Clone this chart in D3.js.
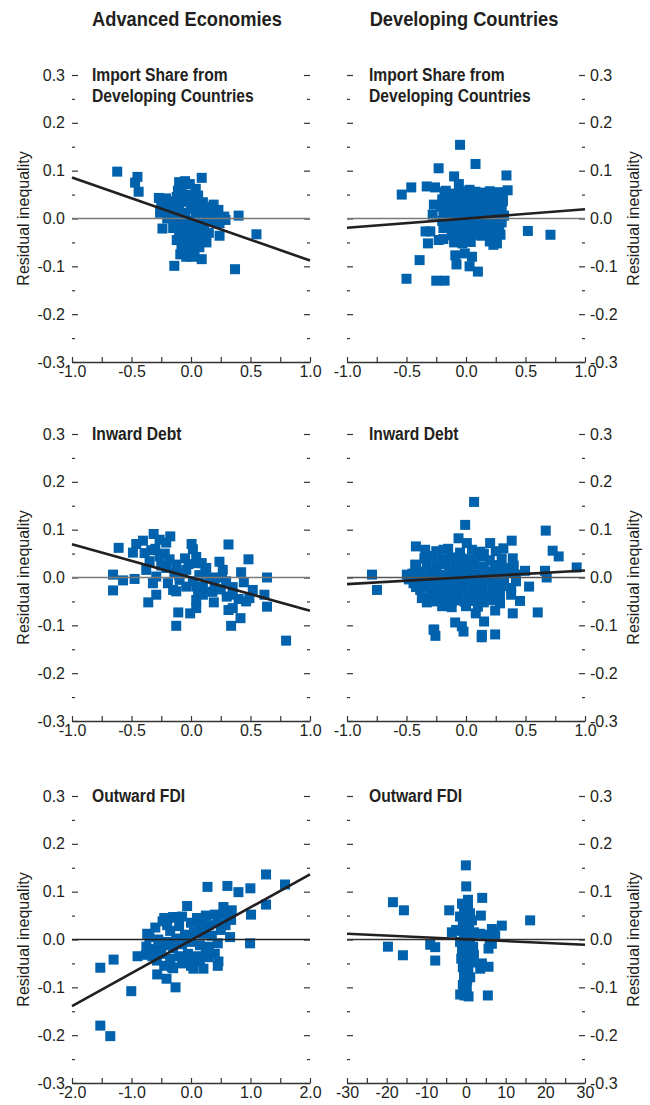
<!DOCTYPE html>
<html>
<head>
<meta charset="utf-8">
<title>Residual inequality scatter panels</title>
<script src="https://cdn.jsdelivr.net/npm/d3@7"></script>
<style>
    body { margin: 0; background: #fff; }
    svg text {
        font-family: "Liberation Sans", Arial, sans-serif;
        fill: #231f20;
    }
    .tick line, .domain { stroke: #333; }
</style>
</head>
<body>
<svg id="chart" width="650" height="1105"></svg>
<script>
// Configuration
const CONFIG = {
    colLeft: [72, 347],
    plotWidth: 238,
    rowTop: [75, 434, 796],
    plotHeight: 287,
    markSize: 10,
    markColor: '#0062ad',
    lineColor: '#231f20',
    narrow: 0.87
};

// Column headers and panel titles
const columnTitles = ['Advanced Economies', 'Developing Countries'];
const rowTitles = [['Import Share from', 'Developing Countries'], ['Inward Debt'], ['Outward FDI']];
const yAxisTitle = 'Residual inequality';

// Axis ticks
const yMajorTicks = [-0.3, -0.2, -0.1, 0.0, 0.1, 0.2, 0.3];
const yMinorTicks = [-0.25, -0.15, -0.05, 0.05, 0.15, 0.25];
const xTicksUnit = [-1.0, -0.5, 0.0, 0.5, 1.0];
const xMinorUnit = [-0.75, -0.25, 0.25, 0.75];
const xTicksFdiAE = [-2.0, -1.0, 0.0, 1.0, 2.0];
const xMinorFdiAE = [-1.5, -0.5, 0.5, 1.5];
const xTicksFdiDC = [-30, -20, -10, 0, 10, 20, 30];
const xMinorFdiDC = [-25, -15, -5, 5, 15, 25];

// Fitted lines: [intercept, slope]
const aeImportFit = [-0.001, -0.0868];
const dcImportFit = [0.0, 0.0192];
const aeDebtFit = [0.0, -0.0695];
const dcDebtFit = [0.0004, 0.0142];
const aeFdiFit = [-0.0017, 0.0689];
const dcFdiFit = [0.0005, -0.00038];

// Scatter points: [x, residual inequality]
const aeImport = [
    [-0.62, 0.098], [-0.45, 0.087], [-0.47, 0.075], [-0.44, 0.056], [0.09, 0.085], [0.40, 0.006],
    [0.55, -0.033], [0.37, -0.106], [-0.14, -0.099], [-0.24, -0.021], [0.09, -0.085], [0.24, -0.036],
    [-0.10, 0.076], [-0.05, 0.078], [-0.01, 0.072], [0.04, 0.062], [-0.11, 0.058], [-0.08, 0.066],
    [0.06, 0.048], [0.03, 0.040], [-0.12, 0.045], [-0.07, 0.040], [-0.02, 0.035],
    [-0.27, 0.043], [-0.21, 0.042], [-0.25, 0.028], [-0.18, 0.030], [-0.14, 0.036],
    [-0.26, 0.012], [-0.20, 0.016], [-0.15, 0.006], [-0.10, 0.022], [-0.05, 0.012], [0.00, 0.020],
    [0.05, 0.028], [0.10, 0.034], [0.15, 0.024], [0.19, 0.029], [0.23, 0.018], [0.28, 0.004],
    [0.29, -0.003], [0.12, 0.002], [-0.02, -0.004], [0.08, -0.010], [0.18, -0.006], [-0.12, -0.008],
    [0.24, -0.010], [0.14, 0.012], [-0.20, 0.000], [0.04, 0.008], [-0.08, 0.005],
    [-0.15, -0.020], [-0.10, -0.030], [-0.05, -0.024], [0.00, -0.032], [0.05, -0.020], [0.10, -0.036],
    [0.13, -0.050], [-0.12, -0.045], [-0.06, -0.050], [0.00, -0.055], [0.06, -0.048], [-0.08, -0.064],
    [-0.03, -0.068], [0.03, -0.070], [-0.09, -0.075], [-0.04, -0.080], [0.01, -0.080], [0.07, -0.060],
    [0.15, -0.030], [-0.04, 0.050], [0.00, 0.045], [0.08, 0.020], [-0.16, 0.020], [0.02, -0.012],
    [-0.07, -0.015], [0.11, -0.018], [-0.03, -0.045], [0.03, -0.040], [0.09, -0.048], [-0.12, 0.028],
    [0.20, 0.005]
];

const dcImport = [
    [-0.05, 0.154], [0.08, 0.114], [-0.23, 0.105], [0.34, 0.090], [-0.10, 0.088], [-0.46, 0.065],
    [-0.54, 0.050], [-0.33, 0.067], [-0.26, 0.065], [-0.17, 0.058], [0.35, 0.059], [-0.06, 0.072],
    [0.03, 0.060], [0.20, 0.057], [-0.27, 0.029], [-0.28, 0.008], [0.31, 0.036], [0.52, -0.026],
    [0.71, -0.034], [-0.34, -0.027], [-0.30, -0.027], [-0.32, -0.052], [-0.23, -0.045], [-0.19, -0.043],
    [-0.39, -0.087], [-0.50, -0.126], [-0.25, -0.130], [-0.18, -0.130], [-0.09, -0.077], [-0.08, -0.096],
    [0.05, -0.080], [0.03, -0.100], [0.10, -0.111], [-0.01, -0.073], [0.23, -0.055], [0.29, -0.034],
    [-0.19, -0.020],
    [-0.18, 0.055], [-0.12, 0.052], [-0.05, 0.057], [0.02, 0.053], [0.08, 0.056], [0.15, 0.054],
    [0.22, 0.052], [0.28, 0.055], [-0.20, 0.040], [-0.14, 0.042], [-0.08, 0.038], [-0.02, 0.041],
    [0.05, 0.039], [0.11, 0.043], [0.18, 0.040], [0.25, 0.038], [0.31, 0.042], [-0.21, 0.025],
    [-0.15, 0.027], [-0.09, 0.023], [-0.03, 0.026], [0.03, 0.024], [0.10, 0.027], [0.16, 0.022],
    [0.22, 0.025], [0.30, 0.020], [-0.19, 0.010], [-0.13, 0.012], [-0.06, 0.008], [0.00, 0.011],
    [0.06, 0.009], [0.13, 0.013], [0.20, 0.008], [0.27, 0.010], [0.32, 0.006], [-0.20, -0.005],
    [-0.14, -0.003], [-0.08, -0.007], [-0.01, -0.004], [0.05, -0.006], [0.11, -0.002], [0.18, -0.007],
    [0.24, -0.004], [0.30, -0.008], [-0.16, -0.020], [-0.10, -0.018], [-0.04, -0.022], [0.02, -0.019],
    [0.08, -0.021], [0.15, -0.018], [0.21, -0.022], [0.28, -0.020], [-0.12, -0.035], [-0.06, -0.033],
    [0.00, -0.037], [0.07, -0.034], [0.13, -0.036], [0.19, -0.032], [0.25, -0.036], [-0.10, -0.050],
    [-0.03, -0.052], [0.04, -0.049], [0.20, -0.048], [0.26, -0.052]
];

const aeDebt = [
    [-0.314, 0.091], [-0.174, 0.086], [-0.404, 0.077], [-0.460, 0.070], [-0.264, 0.079], [-0.208, 0.073],
    [-0.608, 0.062], [-0.488, 0.052], [-0.390, 0.051], [-0.334, 0.057], [0.005, 0.070], [0.016, 0.059],
    [0.315, 0.069], [0.044, 0.043], [-0.264, 0.044], [-0.180, 0.038], [-0.124, 0.027], [-0.348, 0.034],
    [0.058, 0.030], [0.239, 0.033], [0.483, 0.038], [-0.376, 0.016], [-0.208, 0.020], [-0.040, 0.016],
    [0.128, 0.020], [0.267, 0.016], [0.421, 0.011], [-0.655, 0.006], [-0.571, -0.006], [-0.474, -0.003],
    [-0.320, -0.012], [-0.292, 0.002], [-0.194, -0.012], [-0.096, -0.005], [0.016, -0.008], [0.156, -0.001],
    [0.295, -0.008], [0.444, -0.010], [0.639, 0.000], [-0.655, -0.027], [-0.292, -0.036], [-0.124, -0.029],
    [0.044, -0.019], [0.100, -0.036], [0.198, -0.019], [0.351, -0.036], [0.519, -0.026], [0.617, -0.036],
    [-0.359, -0.052], [0.044, -0.047], [0.192, -0.052], [0.463, -0.050], [0.491, -0.043], [0.639, -0.061],
    [-0.107, -0.073], [-0.007, -0.075], [0.044, -0.064], [0.315, -0.068], [0.351, -0.064], [0.416, -0.085],
    [-0.124, -0.101], [0.337, -0.101], [0.799, -0.132],
    [-0.07, 0.009], [-0.04, -0.019], [-0.15, -0.026], [0.10, -0.019], [0.07, 0.005], [-0.25, 0.025],
    [0.12, 0.010], [0.20, 0.000], [-0.02, 0.028], [0.09, 0.030], [0.18, -0.030], [0.25, -0.025],
    [-0.05, 0.040], [-0.30, 0.060], [-0.22, 0.050], [0.26, 0.000], [0.35, -0.020], [0.06, -0.028],
    [-0.10, 0.005], [-0.14, 0.010], [0.40, -0.045], [0.30, -0.040]
];

const dcDebt = [
    [0.068, 0.158], [-0.007, 0.110], [0.670, 0.098], [-0.063, 0.082], [0.384, 0.077], [0.203, 0.072],
    [-0.421, 0.065], [-0.343, 0.058], [0.728, 0.056], [0.779, 0.044], [0.314, 0.061], [0.119, 0.054],
    [0.007, 0.072], [-0.189, 0.058], [-0.427, 0.027], [0.930, 0.021], [-0.790, 0.006], [-0.748, -0.026],
    [-0.497, 0.006], [0.496, 0.014], [0.664, 0.014], [0.678, 0.000], [0.393, 0.040], [0.398, 0.023],
    [0.530, -0.019], [0.454, -0.049], [0.379, -0.036], [0.286, -0.036], [0.286, -0.054], [0.603, -0.073],
    [0.393, -0.075], [0.245, -0.069], [0.082, -0.075], [0.152, -0.092], [-0.091, -0.094], [-0.035, -0.102],
    [-0.267, -0.109], [-0.021, -0.113], [0.133, -0.120], [0.245, -0.119], [-0.371, -0.043], [-0.329, -0.052],
    [-0.385, -0.026], [-0.441, -0.012], [-0.133, -0.054], [-0.189, -0.043], [-0.257, -0.122], [0.132, -0.125],
    [-0.273, -0.109],
    [-0.25, 0.055], [-0.15, 0.060], [-0.05, 0.052], [0.05, 0.058], [0.15, 0.050], [0.25, 0.055],
    [-0.35, 0.040], [-0.28, 0.045], [-0.20, 0.038], [-0.12, 0.042], [-0.04, 0.040], [0.04, 0.038],
    [0.12, 0.044], [0.20, 0.036], [0.30, 0.040], [-0.42, 0.022], [-0.33, 0.027], [-0.25, 0.024],
    [-0.17, 0.028], [-0.09, 0.025], [-0.01, 0.022], [0.07, 0.027], [0.15, 0.023], [0.24, 0.026],
    [0.32, 0.020], [0.40, 0.025], [-0.45, 0.008], [-0.38, 0.012], [-0.30, 0.010], [-0.22, 0.006],
    [-0.14, 0.012], [-0.06, 0.009], [0.02, 0.011], [0.10, 0.007], [0.18, 0.012], [0.26, 0.008],
    [0.34, 0.010], [0.42, 0.006], [-0.48, -0.004], [-0.40, -0.006], [-0.32, -0.003], [-0.24, -0.007],
    [-0.16, -0.004], [-0.08, -0.006], [0.00, -0.003], [0.08, -0.007], [0.16, -0.004], [0.24, -0.006],
    [0.32, -0.003], [0.42, -0.008], [-0.42, -0.020], [-0.34, -0.018], [-0.26, -0.022], [-0.18, -0.019],
    [-0.10, -0.021], [-0.02, -0.018], [0.06, -0.022], [0.14, -0.019], [0.22, -0.021], [0.30, -0.018],
    [0.38, -0.022], [-0.30, -0.034], [-0.22, -0.037], [-0.14, -0.035], [-0.06, -0.033], [0.02, -0.036],
    [0.10, -0.034], [0.18, -0.037], [0.26, -0.034], [-0.25, -0.050], [-0.17, -0.052], [-0.09, -0.048],
    [-0.01, -0.051], [0.07, -0.049], [0.15, -0.052], [0.23, -0.047], [-0.20, -0.060], [-0.12, -0.062],
    [0.00, -0.060], [0.10, -0.061]
];

const aeFdi = [
    [1.261, 0.136], [1.580, 0.115], [0.277, 0.110], [0.612, 0.112], [0.797, 0.099], [0.998, 0.107],
    [-0.065, 0.070], [1.261, 0.073], [1.009, 0.052], [0.545, 0.068], [0.685, 0.061], [0.674, 0.041],
    [-0.478, 0.038], [-0.378, 0.045], [-0.210, 0.047], [-0.350, 0.018], [-0.736, 0.012], [0.657, 0.005],
    [0.993, -0.008], [-1.524, -0.059], [-1.301, -0.042], [-0.898, -0.035], [-0.758, -0.032], [-1.004, -0.108],
    [-0.568, -0.073], [-0.411, -0.082], [-0.260, -0.100], [0.042, -0.061], [0.209, -0.061], [0.461, -0.046],
    [0.293, -0.037], [-0.573, -0.044], [-0.322, -0.058], [-0.042, -0.044], [-1.524, -0.180], [-1.356, -0.202],
    [-0.45, 0.045], [-0.30, 0.047], [-0.15, 0.048], [0.10, 0.045], [0.25, 0.050], [0.40, 0.052],
    [0.55, 0.055], [0.62, 0.045], [-0.60, 0.025], [-0.40, 0.030], [-0.20, 0.028], [0.00, 0.035],
    [0.15, 0.032], [0.30, 0.030], [0.45, 0.038], [0.58, 0.030], [-0.70, 0.005], [-0.55, 0.000],
    [-0.40, -0.005], [-0.25, 0.002], [-0.10, 0.010], [0.05, 0.015], [0.20, 0.012], [0.35, 0.008],
    [0.50, 0.020], [-0.75, -0.015], [-0.60, -0.020], [-0.45, -0.012], [-0.30, -0.018], [-0.15, -0.010],
    [0.00, -0.005], [0.15, -0.012], [0.30, -0.015], [0.45, -0.008], [-0.65, -0.035], [-0.50, -0.030],
    [-0.35, -0.040], [-0.20, -0.035], [-0.05, -0.030], [0.10, -0.035], [0.25, -0.028], [0.40, -0.030],
    [-0.45, -0.055], [-0.30, -0.060], [-0.15, -0.050], [0.00, -0.055], [0.15, -0.045], [0.45, -0.055]
];

const dcFdi = [
    [-0.03, 0.155], [0.05, 0.111], [-18.42, 0.078], [-15.65, 0.061], [4.08, 0.087], [-4.23, 0.061],
    [3.75, 0.050], [9.03, 0.029], [16.17, 0.040], [-19.68, -0.015], [-15.90, -0.033], [-9.02, -0.011],
    [-7.76, -0.016], [-7.76, -0.044], [5.68, -0.057], [3.58, -0.061], [5.51, -0.117], [-0.37, -0.117],
    [-1.46, -0.115], [0.64, -0.119], [-3.56, 0.015], [6.52, 0.022], [7.36, 0.008], [5.68, -0.019],
    [6.52, -0.009], [1.06, -0.079], [-0.20, -0.089], [0.50, 0.083],
    [-1.0, 0.075], [0.5, 0.070], [-0.5, 0.060], [1.0, 0.055], [-1.5, 0.048], [0.0, 0.045],
    [1.5, 0.040], [-0.8, 0.035], [0.8, 0.030], [-2.5, 0.020], [-1.0, 0.018], [0.5, 0.020],
    [2.0, 0.015], [3.5, 0.012], [5.0, 0.010], [-0.5, 0.005], [1.0, 0.003], [-1.5, -0.005],
    [0.2, -0.010], [1.8, -0.015], [-1.0, -0.022], [0.5, -0.028], [2.0, -0.032], [-1.2, -0.040],
    [0.0, -0.045], [1.5, -0.048], [4.0, -0.050], [-0.8, -0.058], [0.6, -0.065], [-0.5, -0.075],
    [0.3, -0.085], [-0.8, -0.095], [0.2, -0.100], [-0.5, -0.108], [6.0, 0.000], [7.0, 0.015]
];

// Panel layout built from the arrays above
const panels = [
    { row: 0, col: 0, points: aeImport, fit: aeImportFit, xDomain: [-1, 1], xMajor: xTicksUnit, xMinor: xMinorUnit, fmt: d3.format('.1f'), zeroColor: '#7a7a7a' },
    { row: 0, col: 1, points: dcImport, fit: dcImportFit, xDomain: [-1, 1], xMajor: xTicksUnit, xMinor: xMinorUnit, fmt: d3.format('.1f'), zeroColor: '#7a7a7a' },
    { row: 1, col: 0, points: aeDebt, fit: aeDebtFit, xDomain: [-1, 1], xMajor: xTicksUnit, xMinor: xMinorUnit, fmt: d3.format('.1f'), zeroColor: '#7a7a7a' },
    { row: 1, col: 1, points: dcDebt, fit: dcDebtFit, xDomain: [-1, 1], xMajor: xTicksUnit, xMinor: xMinorUnit, fmt: d3.format('.1f'), zeroColor: '#555' },
    { row: 2, col: 0, points: aeFdi, fit: aeFdiFit, xDomain: [-2, 2], xMajor: xTicksFdiAE, xMinor: xMinorFdiAE, fmt: d3.format('.1f'), zeroColor: '#222' },
    { row: 2, col: 1, points: dcFdi, fit: dcFdiFit, xDomain: [-30, 30], xMajor: xTicksFdiDC, xMinor: xMinorFdiDC, fmt: d3.format('d'), zeroColor: '#333' }
];

// d3 uses a true minus sign; the reference prints a hyphen
const hyphen = f => d => f(d).replace('−', '-');
const yFmt = hyphen(d3.format('.1f'));

/**
 * Bold condensed text: Liberation Sans squeezed horizontally
 */
function narrowText(parent, x, y, lines, size, anchor) {
    const t = parent.append('g')
        .attr('transform', `translate(${x},${y}) scale(${CONFIG.narrow},1)`)
        .append('text')
        .attr('text-anchor', anchor)
        .style('font-size', size + 'px')
        .style('font-weight', 'bold');
    lines.forEach((line, i) => {
        t.append('tspan').attr('x', 0).attr('dy', i === 0 ? 0 : 21).text(line);
    });
}

/**
 * Draw one scatter panel
 */
function renderPanel(svg, p) {
    const left = CONFIG.colLeft[p.col];
    const top = CONFIG.rowTop[p.row];
    const right = left + CONFIG.plotWidth;
    const bottom = top + CONFIG.plotHeight;

    const x = d3.scaleLinear().domain(p.xDomain).range([left, right]);
    const y = d3.scaleLinear().domain([-0.3, 0.3]).range([bottom, top]);
    const g = svg.append('g');

    // y ticks on both sides, labels on the outer side only
    const labelled = p.col === 0 ? 'left' : 'right';
    ['left', 'right'].forEach(side => {
        const axisFn = side === 'left' ? d3.axisLeft : d3.axisRight;
        const xPos = side === 'left' ? left : right;
        const major = axisFn(y).tickValues(yMajorTicks).tickSize(-6).tickSizeOuter(0)
            .tickPadding(side === 'left' ? 7 : 5)
            .tickFormat(side === labelled ? yFmt : '');
        g.append('g').attr('transform', `translate(${xPos},0)`).call(major)
            .select('.domain').remove();
        const minor = axisFn(y).tickValues(yMinorTicks).tickSize(-3).tickFormat('');
        g.append('g').attr('transform', `translate(${xPos},0)`).call(minor)
            .select('.domain').remove();
    });

    // x axis
    const gx = g.append('g').attr('transform', `translate(0,${bottom})`)
        .call(d3.axisBottom(x).tickValues(p.xMajor).tickSize(-5).tickSizeOuter(0)
            .tickPadding(4).tickFormat(hyphen(p.fmt)));
    gx.select('.domain').attr('stroke-width', 1.4);
    g.append('g').attr('transform', `translate(0,${bottom})`)
        .call(d3.axisBottom(x).tickValues(p.xMinor).tickSize(-5).tickFormat(''))
        .select('.domain').remove();
    g.selectAll('.tick line').attr('stroke-width', 1.2);
    g.selectAll('.tick text').style('font-size', '16px').attr('fill', '#231f20');

    // scatter squares
    const s = CONFIG.markSize;
    g.append('g').selectAll('rect').data(p.points).join('rect')
        .attr('x', d => x(d[0]) - s / 2)
        .attr('y', d => y(d[1]) - s / 2)
        .attr('width', s)
        .attr('height', s)
        .attr('fill', CONFIG.markColor);

    // zero line
    g.append('line')
        .attr('x1', left).attr('x2', right)
        .attr('y1', y(0)).attr('y2', y(0))
        .attr('stroke', p.zeroColor)
        .attr('stroke-width', 1.5);

    // fitted line
    const fitLine = d3.line().x(d => x(d)).y(d => y(p.fit[0] + p.fit[1] * d));
    g.append('path')
        .attr('d', fitLine(p.xDomain))
        .attr('fill', 'none')
        .attr('stroke', CONFIG.lineColor)
        .attr('stroke-width', 2.6);

    // panel title
    narrowText(g, left + (p.col === 0 ? 20 : 22), top + 6, rowTitles[p.row], 18, 'start');

    // y axis title
    const tx = p.col === 0 ? 29 : 639;
    g.append('text')
        .attr('transform', `translate(${tx},${(top + bottom) / 2}) rotate(-90)`)
        .attr('text-anchor', 'middle')
        .style('font-size', '16px')
        .text(yAxisTitle);
}

/**
 * Render the whole figure
 */
function init() {
    const svg = d3.select('#chart');

    columnTitles.forEach((t, i) => {
        const cx = CONFIG.colLeft[i] + CONFIG.plotWidth / 2 - 4 + i * 2;
        narrowText(svg, cx, 26, [t], 21, 'middle');
    });

    panels.forEach(p => renderPanel(svg, p));
}

init();
</script>
</body>
</html>
